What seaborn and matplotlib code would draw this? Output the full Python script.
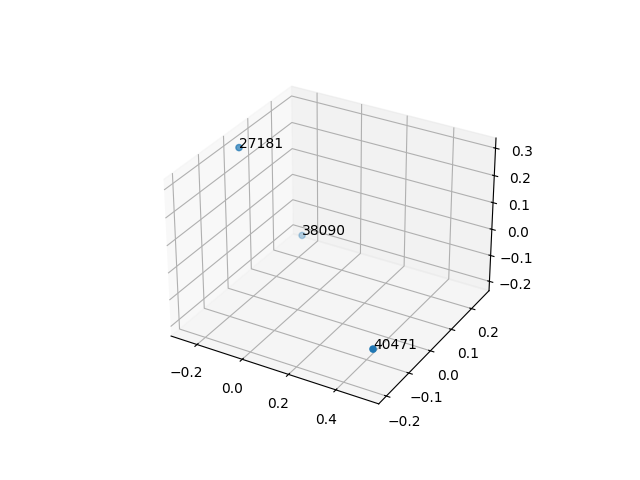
import matplotlib
matplotlib.use("Agg")
import matplotlib.pyplot as plt
import seaborn as sns
import numpy as np

labels = ["27181", "38090", "40471"]
xs = [-0.26, -0.24, 0.52]
ys = [0.01, 0.256, -0.2]
zs = [0.3, -0.2, -0.08]

color = sns.color_palette()[0]
fig = plt.figure(figsize=(6.4, 4.8), dpi=100)
ax = fig.add_subplot(projection="3d")
ax.scatter(xs, ys, zs, color=color)
for x, y, z, t in zip(xs, ys, zs, labels):
    ax.text(x, y, z, t)
fig.savefig("out.png")
